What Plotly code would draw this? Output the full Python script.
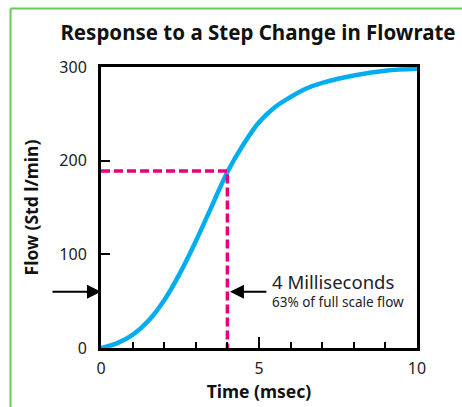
import plotly.graph_objects as go

# ---- data ----
time_ms = [0, 0.5, 1, 1.5, 2, 2.5, 3, 3.5, 4, 4.5, 5, 5.5, 6, 6.5, 7, 8, 9, 10]
flow = [0, 5, 14, 29, 51, 80, 114, 151, 188, 217, 241, 257, 268, 277, 283, 291, 296, 298]
marker_time = [0, 4, 4]
marker_flow = [189, 189, 0]
x_ticks = [0, 5, 10]
y_ticks = [0, 100, 200, 300]

title = "Response to a Step Change in Flowrate"
x_title = "Time (msec)"
y_title = "Flow (Std l/min)"
note_main = "4 Milliseconds"
note_sub = "63% of full scale flow"
arrow_flow = 60

# ---- layout constants ----
W, H = 462, 407
ML, MR, MT, MB = 101, 45, 67, 59
PW, PH = W - ML - MR, H - MT - MB

def px_to_paper_x(px):
    return (px - ML) / PW

def px_to_paper_y(py):
    return (H - MB - py) / PH

FONT = "Noto Sans"
BLUE = "#00AEEF"
PINK = "#E6007E"
GREEN = "#66CC55"

fig = go.Figure()
fig.add_trace(go.Scatter(x=time_ms, y=flow, mode="lines",
                         line=dict(color=BLUE, width=4.5, shape="spline", smoothing=1.0),
                         hoverinfo="skip"))
fig.add_trace(go.Scatter(x=marker_time, y=marker_flow, mode="lines",
                         line=dict(color=PINK, width=3.5, dash="9px,4px"),
                         hoverinfo="skip"))

fig.update_layout(
    width=W, height=H,
    margin=dict(l=ML, r=MR, t=MT, b=MB, pad=0, autoexpand=False),
    paper_bgcolor="white", plot_bgcolor="white",
    showlegend=False,
    font=dict(family=FONT, color="#222222", size=16),
    title=dict(text="<b>" + title + "</b>", x=px_to_paper_x(258), xref="paper", xanchor="center",
               y=1 - 33 / H, yanchor="middle", yref="container",
               font=dict(family=FONT, size=20.5, color="#111111")),
    xaxis=dict(range=[0, 10], tickvals=x_ticks, ticktext=[str(v) for v in x_ticks],
               ticks="inside", ticklen=11, tickwidth=2, tickcolor="black",
               minor=dict(dtick=1, ticks="inside", ticklen=6, tickwidth=2, tickcolor="black"),
               showline=True, linecolor="black", linewidth=3, mirror=True,
               showgrid=False, zeroline=False, ticklabelstandoff=4, automargin=False,
               title=dict(text="<b>" + x_title + "</b>", standoff=4,
                          font=dict(family=FONT, size=17.5, color="#111111"))),
    yaxis=dict(range=[0, 300], tickvals=y_ticks, ticktext=[str(v) for v in y_ticks],
               ticks="inside", ticklen=9, tickwidth=2, tickcolor="black",
               showline=True, linecolor="black", linewidth=3, mirror=True,
               showgrid=False, zeroline=False, ticklabelstandoff=8, automargin=False,
               title=dict(text="<b>" + y_title + "</b>", standoff=17,
                          font=dict(family=FONT, size=17.5, color="#111111"))),
)

# arrows
fig.add_annotation(x=0, y=arrow_flow, xref="x", yref="y", ax=-50, ay=0,
                   showarrow=True, arrowhead=2, arrowsize=1.4, arrowwidth=2,
                   arrowcolor="black", text="")
fig.add_annotation(x=4.08, y=arrow_flow, xref="x", yref="y", ax=38, ay=0,
                   showarrow=True, arrowhead=2, arrowsize=1.4, arrowwidth=2,
                   arrowcolor="black", text="")
fig.add_annotation(x=px_to_paper_x(270), y=px_to_paper_y(281), xref="paper", yref="paper",
                   xanchor="left", yanchor="middle", showarrow=False,
                   text=note_main, font=dict(family=FONT, size=18.5, color="#222222"))
fig.add_annotation(x=px_to_paper_x(270), y=px_to_paper_y(302), xref="paper", yref="paper",
                   xanchor="left", yanchor="middle", showarrow=False,
                   text=note_sub, font=dict(family=FONT, size=13.5, color="#222222"))

# green frame (left and top border)
fig.add_shape(type="line", xref="paper", yref="paper",
              x0=px_to_paper_x(10.5), x1=px_to_paper_x(10.5),
              y0=px_to_paper_y(8.5), y1=px_to_paper_y(H + 2),
              line=dict(color=GREEN, width=2))
fig.add_shape(type="line", xref="paper", yref="paper",
              x0=px_to_paper_x(10.5), x1=px_to_paper_x(W + 2),
              y0=px_to_paper_y(8.5), y1=px_to_paper_y(8.5),
              line=dict(color=GREEN, width=2))

fig.write_html("out.html", config={"displayModeBar": False},
               post_script="document.body.style.margin='0px';document.body.style.overflow='hidden';")
